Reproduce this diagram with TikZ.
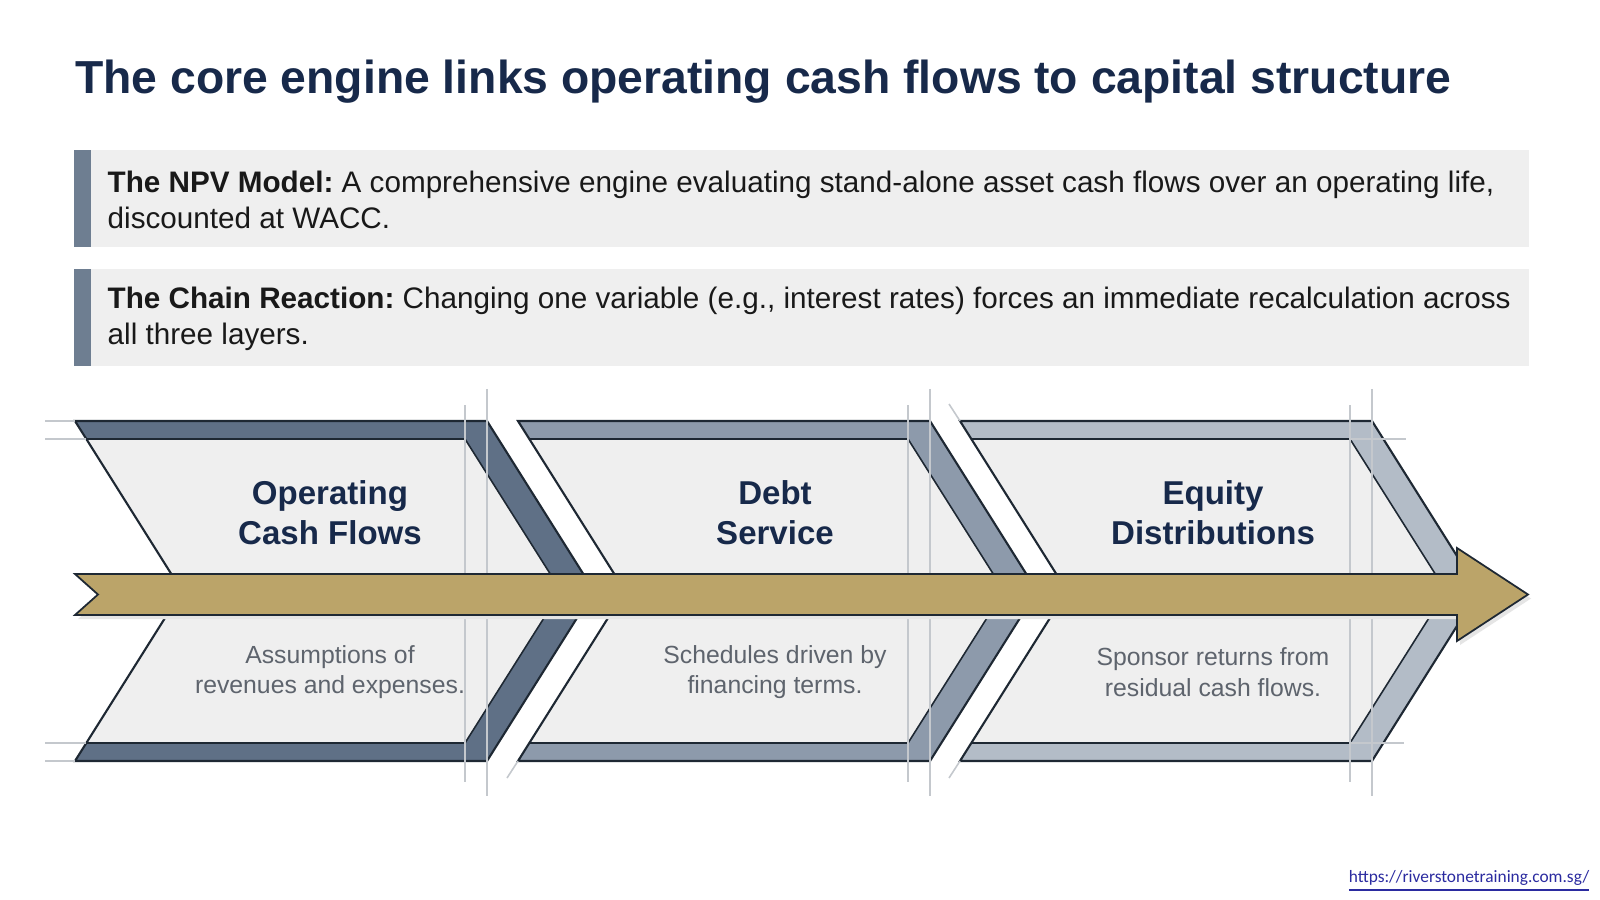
\documentclass[tikz,border=0pt]{standalone}
\usepackage{fontspec}
\setmainfont{Liberation Sans}
\newfontfamily\urlfont{Carlito}
\usetikzlibrary{positioning}
\frenchspacing
\definecolor{navy}{HTML}{17294A}
\definecolor{panel}{HTML}{EFEFEF}
\definecolor{barcol}{HTML}{6E7E91}
\definecolor{bandA}{HTML}{5F7086}
\definecolor{bandB}{HTML}{8D9AAB}
\definecolor{bandC}{HTML}{B3BCC7}
\definecolor{edge}{HTML}{1E2833}
\definecolor{gold}{HTML}{BBA469}
\definecolor{subgray}{HTML}{5E646D}
\definecolor{guide}{HTML}{C4C8CD}
\definecolor{linkblue}{HTML}{2B2BA0}
\begin{document}
\begin{tikzpicture}[x=0.1mm,y=-0.1mm,
    bodytext/.style={anchor=west,align=left,inner sep=0pt,text=black!90,font=\frenchspacing\fontsize{8.44}{10.2}\selectfont},
    head/.style={align=center,inner sep=0pt,text=navy,font=\bfseries\fontsize{9.4}{11.4}\selectfont},
    subtext/.style={align=center,inner sep=0pt,text=subgray,font=\fontsize{7.05}{8.7}\selectfont},
    guideline/.style={guide,line width=0.45pt},
    outline/.style={edge,line width=0.6pt,line join=miter}]
    \useasboundingbox (0,0) rectangle (1600,900);
    \fill[white] (0,0) rectangle (1600,900);
    \node[anchor=base west,inner sep=0pt,text=navy,font=\bfseries\fontsize{13.17}{15.8}\selectfont] (title) at (74.5,94)
        {The core engine links operating cash flows to capital structure};
    \fill[panel] (73.5,150) rectangle (1528.6,247);
    \fill[barcol] (73.5,150) rectangle (91,247);
    \fill[panel] (73.5,269.4) rectangle (1528.6,366.3);
    \fill[barcol] (73.5,269.4) rectangle (91,366.3);
    \node[bodytext] (npv) at (107,199.5)
        {\textbf{The NPV Model:} A comprehensive engine evaluating stand-alone asset cash flows over an operating life,\\discounted at WACC.};
    \node[bodytext] (chain) at (107,319)
        {\textbf{The Chain Reaction:} Changing one variable (e.g., interest rates) forces an immediate recalculation across\\all three layers.};
    \foreach \x/\c in {75/bandA,518/bandB,960/bandC}{
        \fill[\c] (\x,421) -- (\x+412,421) -- (\x+519,591) -- (\x+412,761) -- (\x,761) -- (\x+107,591) -- cycle;
        \fill[panel] (\x+11,439) -- (\x+390,439) -- (\x+486,591) -- (\x+390,743) -- (\x+11,743) -- (\x+107,591) -- cycle;
        \draw[outline] (\x,421) -- (\x+412,421) -- (\x+519,591) -- (\x+412,761) -- (\x,761) -- (\x+107,591) -- cycle;
        \draw[outline,line width=0.45pt] (\x+11,439) -- (\x+390,439) -- (\x+486,591) -- (\x+390,743) -- (\x+11,743);
        \draw[guideline] (\x+390,405) -- (\x+390,782);
        \draw[guideline] (\x+412,389) -- (\x+412,796);
    }
    \draw[guideline] (45,421) -- (75,421);
    \draw[guideline] (45,439) -- (86,439);
    \draw[guideline] (45,743) -- (86,743);
    \draw[guideline] (45,761) -- (75,761);
    \draw[guideline] (1350,439) -- (1406,439);
    \draw[guideline] (1350,743) -- (1404,743);
    \draw[guideline] (518,761) -- (507,778);
    \draw[guideline] (960,421) -- (949,404);
    \draw[guideline] (960,761) -- (949,778);
    \fill[black!10] (78,578) -- (1460,578) -- (1460,552) -- (1531,598.5) -- (1460,645) -- (1460,619) -- (78,619) -- (101,598.5) -- cycle;
    \filldraw[fill=gold,draw=edge,line width=0.5pt] (75,574) -- (1457,574) -- (1457,548) -- (1528,594.5) -- (1457,641) -- (1457,615) -- (75,615) -- (98,594.5) -- cycle;
    \node[head] (opcf) at (330,513) {Operating\\Cash Flows};
    \node[head] (debt) at (775,513) {Debt\\Service};
    \node[head] (equity) at (1213,513) {Equity\\Distributions};
    \node[subtext] (opcfsub) at (330,672) {Assumptions of\\revenues and expenses.};
    \node[subtext] (debtsub) at (775,672) {Schedules driven by\\financing terms.};
    \node[subtext] (equitysub) at (1213,672) {Sponsor returns from\\residual cash flows.};
    \node[anchor=east,inner sep=0pt,text=linkblue,font=\urlfont\fontsize{4.94}{6}\selectfont] (url) at (1590,881)
        {\underline{https://riverstonetraining.com.sg/}};
\end{tikzpicture}
\end{document}
